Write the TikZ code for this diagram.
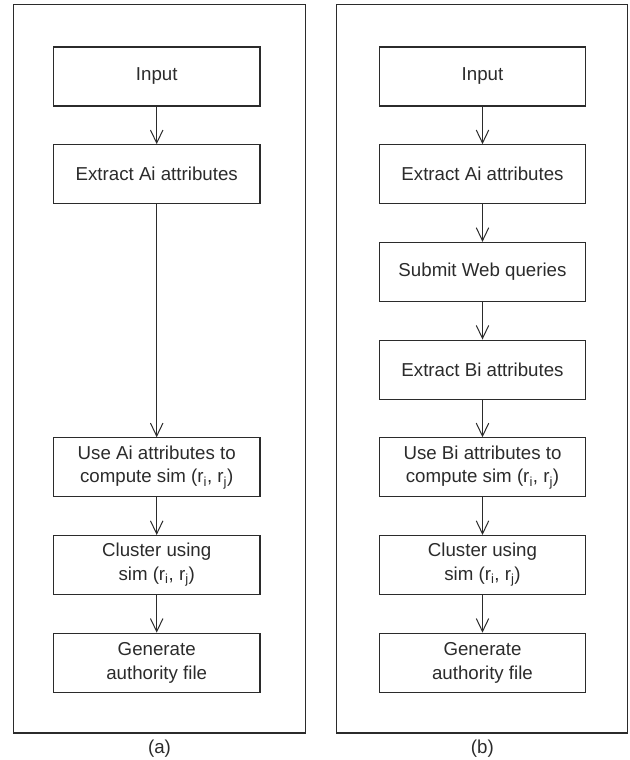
\documentclass[tikz,border=0pt]{standalone}
\usepackage{fontspec}
\setmainfont{Liberation Sans}
\usetikzlibrary{arrows.meta}
\definecolor{ink}{HTML}{2B2B2B}
\begin{document}
\begin{tikzpicture}[x=1pt,y=-1pt,
  every node/.style={text=ink,font=\fontsize{18.7}{23.5}\selectfont},
  box/.style={draw=ink,line width=1.1pt,minimum width=206.5pt,minimum height=59pt,inner sep=0pt,align=center},
  frame/.style={draw=ink,line width=1.1pt},
  arr/.style={draw=ink,line width=1pt,-{Straight Barb[length=13pt,width=12.5pt,line width=1pt]}}]
\useasboundingbox (0,0) rectangle (629,760);
% frames
\draw[frame] (13.3,4.7) rectangle (305.3,733);
\draw[frame] (336.7,4.7) rectangle (627.8,733);
% left panel
\node[box] (a1) at (156.7,76.5) {Input};
\node[box] (a2) at (156.7,174.2) {Extract Ai attributes};
\node[box] (a3) at (156.7,467.3) {Use Ai attributes to\\compute sim (r\textsubscript{i}, r\textsubscript{j})};
\node[box] (a4) at (156.7,565) {Cluster using\\sim (r\textsubscript{i}, r\textsubscript{j})};
\node[box] (a5) at (156.7,662.7) {Generate\\authority file};
\draw[arr] (a1) -- (a2);
\draw[arr] (a2) -- (a3);
\draw[arr] (a3) -- (a4);
\draw[arr] (a4) -- (a5);
% right panel
\node[box] (b1) at (482.5,76.5) {Input};
\node[box] (b2) at (482.5,174.2) {Extract Ai attributes};
\node[box] (b3) at (482.5,271.9) {Submit Web queries};
\node[box] (b4) at (482.5,369.6) {Extract Bi attributes};
\node[box] (b5) at (482.5,467.3) {Use Bi attributes to\\compute sim (r\textsubscript{i}, r\textsubscript{j})};
\node[box] (b6) at (482.5,565) {Cluster using\\sim (r\textsubscript{i}, r\textsubscript{j})};
\node[box] (b7) at (482.5,662.7) {Generate\\authority file};
\draw[arr] (b1) -- (b2);
\draw[arr] (b2) -- (b3);
\draw[arr] (b3) -- (b4);
\draw[arr] (b4) -- (b5);
\draw[arr] (b5) -- (b6);
\draw[arr] (b6) -- (b7);
% captions
\node (capa) at (159.5,748.5) {(a)};
\node (capb) at (482.3,748.5) {(b)};
\end{tikzpicture}
\end{document}
